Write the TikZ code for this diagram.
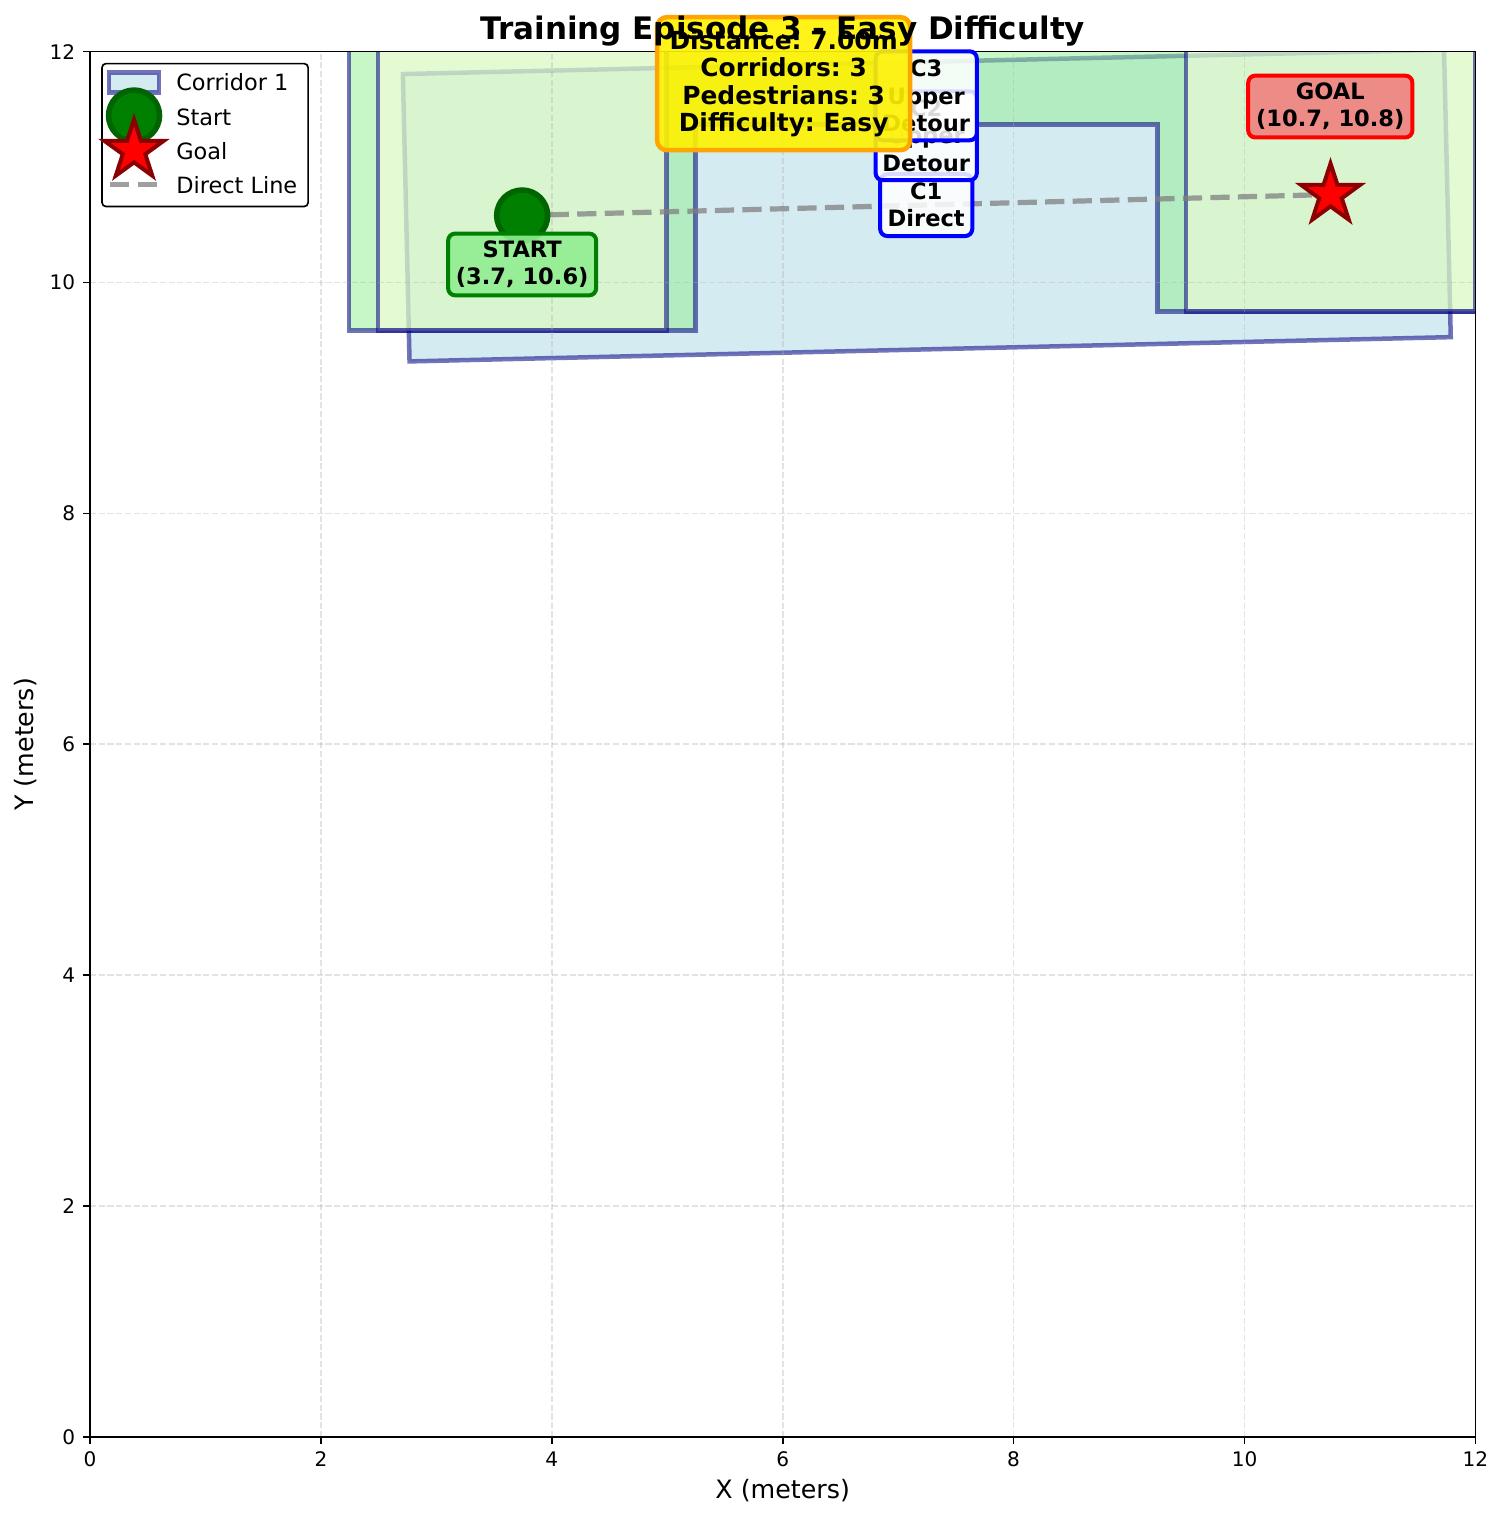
\documentclass[tikz,border=0pt]{standalone}
\usepackage{fontspec}
\setmainfont{DejaVu Sans}
\usetikzlibrary{shapes.geometric}
\frenchspacing

\definecolor{navyc}{RGB}{0,0,128}
\definecolor{lblue}{RGB}{173,216,230}
\definecolor{lgreen}{RGB}{144,238,144}
\definecolor{lyellow}{RGB}{255,255,224}
\definecolor{mgreen}{RGB}{0,128,0}
\definecolor{dgreen}{RGB}{0,100,0}
\definecolor{dred}{RGB}{139,0,0}
\definecolor{lcoral}{RGB}{240,128,128}
\definecolor{morange}{RGB}{255,165,0}
\definecolor{mgray}{RGB}{128,128,128}
\definecolor{ggray}{RGB}{176,176,176}

\newcommand\ttlfont{\fontsize{22.4}{26.9}\selectfont\bfseries}
\newcommand\lblfont{\fontsize{16.3}{19.6}\selectfont\bfseries}
\newcommand\infofont{\fontsize{18}{19.6}\selectfont\bfseries}
\newcommand\legfont{\fontsize{16.2}{19.4}\selectfont}
\newcommand\axfont{\fontsize{18.3}{22}\selectfont}
\newcommand\tkfont{\fontsize{14.5}{17.4}\selectfont}

\tikzset{
  corridor/.style={draw=navyc, draw opacity=0.55, line width=3.25pt, fill opacity=0.5},
  gridline/.style={draw=ggray, draw opacity=0.35, line width=1.2pt, dash pattern=on 4.4pt off 1.9pt},
  tickmark/.style={draw=black, line width=1.2pt},
  lblbox/.style={rounded corners=1.8mm, line width=2.9pt, text opacity=1, align=center,
                 font=\lblfont, inner sep=0pt},
  corrlabel/.style={lblbox, draw=blue, fill=white, fill opacity=0.85},
  startmark/.style={circle, fill=mgreen, draw=dgreen, line width=4pt, minimum size=12.95mm, inner sep=0pt},
  goalmark/.style={star, star points=5, star point ratio=2.618, fill=red, draw=dred,
                   line width=2.9pt, minimum size=15.75mm, inner sep=0pt},
  directline/.style={draw=mgray, draw opacity=0.75, line width=3.76pt, dash pattern=on 13.9pt off 6pt},
  ticklabel/.style={font=\tkfont, inner sep=0pt},
  legtext/.style={font=\legfont, anchor=west, inner sep=0pt}
}

\begin{document}
\begin{tikzpicture}[x=2.9323cm, y=2.9323cm]
\useasboundingbox (-0.780,-0.728) rectangle (12.248,12.447);
\fill[white] (-0.780,-0.728) rectangle (12.248,12.447);

% corridors and grid, clipped to the plotting area
\begin{scope}
  \clip (0,0) rectangle (12,12);
  % corridor 1: direct, slightly tilted band
  \draw[corridor, fill=lblue, rotate around={1.336:(7.248,10.666)}]
    (2.737,9.421) rectangle (11.759,11.911);
  % corridor 2: upper detour
  \draw[corridor, fill=lgreen]
    (2.245,9.583) -- (2.245,12.5) -- (12.245,12.5) -- (12.245,9.75) -- (9.245,9.75)
    -- (9.245,11.367) -- (5.245,11.367) -- (5.245,9.583) -- cycle;
  % corridor 3: wider upper detour
  \draw[corridor, fill=lyellow]
    (2.495,9.583) -- (2.495,12.8) -- (11.995,12.8) -- (11.995,9.75) -- (9.495,9.75)
    -- (9.495,12.4) -- (4.995,12.4) -- (4.995,9.583) -- cycle;
  % grid
  \foreach \v in {2,4,...,10} {
    \draw[gridline] (\v,0) -- (\v,12);
    \draw[gridline] (0,\v) -- (12,\v);
  }
\end{scope}

% start, goal and the straight line between them
\coordinate (s) at (3.743,10.580);
\coordinate (g) at (10.745,10.762);
\draw[directline] (s) -- (g);
\node[startmark] (start) at (s) {};
\node[goalmark] (goal) at (g) {};

% axes frame, ticks and labels
\draw[tickmark] (0,0) rectangle (12,12);
\foreach \v in {0,2,...,12} {
  \draw[tickmark] (\v,0) -- (\v,-0.0606);
  \node[ticklabel, anchor=north] (xt\v) at (\v,-0.126) {\v};
  \draw[tickmark] (0,\v) -- (-0.0606,\v);
  \node[ticklabel, anchor=east] (yt\v) at (-0.126,\v) {\v};
}
\node[font=\axfont] (xlab) at (6.0,-0.468) {X (meters)};
\node[font=\axfont, rotate=90] (ylab) at (-0.555,6.0) {Y (meters)};

% start / goal labels
\node[lblbox, draw=mgreen, fill=lgreen, fill opacity=0.9, minimum width=37.6mm, minimum height=15.7mm]
  (startlbl) at (3.743,10.156) {START\\(3.7, 10.6)};
\node[lblbox, draw=red, fill=lcoral, fill opacity=0.9, minimum width=41.7mm, minimum height=15.7mm]
  (goallbl) at (10.743,11.524) {GOAL\\(10.7, 10.8)};

% corridor labels
\node[corrlabel, minimum width=23.4mm, minimum height=15.7mm] (c1lbl) at (7.243,10.67) {C1\\Direct};
\node[corrlabel, minimum width=25.7mm, minimum height=22.6mm] (c2lbl) at (7.243,11.271) {C2\\Upper\\Detour};
\node[corrlabel, minimum width=25.7mm, minimum height=22.6mm] (c3lbl) at (7.243,11.617) {C3\\Upper\\Detour};

% episode summary box and title
\node[lblbox, font=\infofont, draw=morange, fill=yellow, fill opacity=0.9, line width=3.25pt, rounded corners=2.5mm,
      minimum width=64.3mm, minimum height=33.8mm]
  (info) at (6.008,11.722) {Distance: 7.00m\\Corridors: 3\\Pedestrians: 3\\Difficulty: Easy};
\node[font=\ttlfont, anchor=base, inner sep=0pt] (title) at (6.0,12.101) {Training Episode 3 - Easy Difficulty};

% legend
\draw[black, line width=1.2pt, fill=white, rounded corners=1mm] (0.104,10.658) rectangle (1.889,11.896);
\draw[corridor, fill=lblue] (0.165,11.645) rectangle (0.598,11.818);
\node[startmark] (legstart) at (0.381,11.446) {};
\node[goalmark] (leggoal) at (0.381,11.143) {};
\coordinate (la) at (0.173,10.848);
\coordinate (lb) at (0.589,10.848);
\draw[directline] (la) -- (lb);
\node[legtext] (lt1) at (0.745,11.732) {Corridor 1};
\node[legtext] (lt2) at (0.745,11.432) {Start};
\node[legtext] (lt3) at (0.745,11.134) {Goal};
\node[legtext] (lt4) at (0.745,10.840) {Direct Line};
\end{tikzpicture}
\end{document}
